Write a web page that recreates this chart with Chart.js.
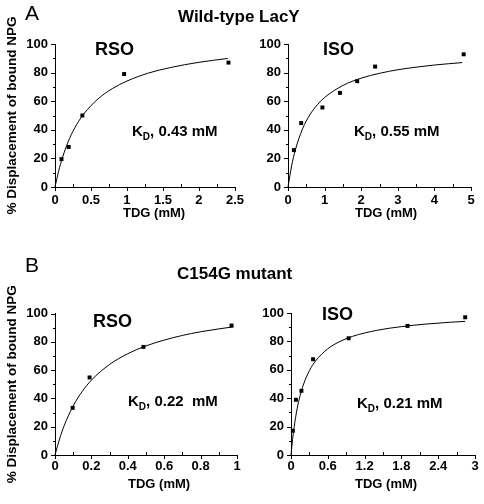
<!DOCTYPE html>
<html>
<head>
<meta charset="utf-8">
<script src="https://cdn.jsdelivr.net/npm/chart.js@4.4.0/dist/chart.umd.min.js"></script>
<style>
  body { margin: 0; background: #fff; }
  #wrap { position: relative; width: 484px; height: 504px; overflow: hidden; font-family: Arial, "Liberation Sans", sans-serif; color: #000; }
  canvas { position: absolute; }
  .txt { position: absolute; line-height: 1; white-space: nowrap; font-weight: bold; }
  .panel { font-size: 21px; font-weight: normal; }
  .head { font-size: 17px; }
  .prep { font-size: 18px; }
  .kd { font-size: 15px; }
  .kd sub { font-size: 10px; vertical-align: baseline; position: relative; top: 4px; }
  .xt { font-size: 13px; }
</style>
</head>
<body>
<div id="wrap">
  <canvas id="wtRso" width="250" height="230" style="left:0;top:0"></canvas>
  <canvas id="wtIso" width="234" height="230" style="left:250px;top:0"></canvas>
  <canvas id="mutRso" width="250" height="252" style="left:0;top:252px"></canvas>
  <canvas id="mutIso" width="234" height="252" style="left:250px;top:252px"></canvas>

  <div class="txt panel" style="left:25px;top:2px">A</div>
  <div class="txt head" style="left:178px;top:8px">Wild-type LacY</div>
  <div class="txt prep" style="left:95px;top:40px">RSO</div>
  <div class="txt prep" style="left:323px;top:40px">ISO</div>
  <div class="txt kd" style="left:132px;top:123px">K<sub>D</sub>, 0.43 mM</div>
  <div class="txt kd" style="left:354px;top:123px">K<sub>D</sub>, 0.55 mM</div>
  <div class="txt xt" style="left:123px;top:206px">TDG (mM)</div>
  <div class="txt xt" style="left:355px;top:206px">TDG (mM)</div>

  <div class="txt panel" style="left:25px;top:254px">B</div>
  <div class="txt head" style="left:177px;top:265px">C154G mutant</div>
  <div class="txt prep" style="left:93px;top:312px">RSO</div>
  <div class="txt prep" style="left:322px;top:305px">ISO</div>
  <div class="txt kd" style="left:128px;top:393px">K<sub>D</sub>, 0.22&nbsp; mM</div>
  <div class="txt kd" style="left:357px;top:395px">K<sub>D</sub>, 0.21 mM</div>
  <div class="txt xt" style="left:128px;top:477px">TDG (mM)</div>
  <div class="txt xt" style="left:355px;top:477px">TDG (mM)</div>
</div>

<script>
// measured points (TDG mM, % displacement)
const wtRsoX = [0.09, 0.19, 0.38, 0.96, 2.41];
const wtRsoY = [19.5, 28, 50, 79, 87];
const wtIsoX = [0.16, 0.36, 0.94, 1.42, 1.89, 2.38, 4.8];
const wtIsoY = [25.8, 44.7, 55.6, 65.8, 74, 84.2, 92.8];
const mutRsoX = [0.097, 0.19, 0.486, 0.97];
const mutRsoY = [33.3, 54.8, 76.4, 91.5];
const mutIsoX = [0.03, 0.08, 0.17, 0.36, 0.94, 1.9, 2.84];
const mutIsoY = [17.1, 38.9, 45.2, 67.4, 82.2, 90.9, 97];

// fitted curves
const wtRsoFitX = [0, 0.05, 0.1, 0.2, 0.3, 0.4, 0.6, 0.8, 1.0, 1.3, 1.6, 2.0, 2.4];
const wtRsoFitY = [0, 11, 20, 33.7, 43.6, 51.1, 61.7, 68.9, 74.1, 79.7, 83.5, 87.2, 89.9];
const wtIsoFitX = [0, 0.1, 0.2, 0.4, 0.6, 0.8, 1.0, 1.5, 2.0, 2.5, 3.0, 3.5, 4.0, 4.76];
const wtIsoFitY = [0, 14.9, 25.9, 40.8, 50.6, 57.5, 62.6, 71, 76.1, 79.5, 82, 83.8, 85.3, 87];
const mutRsoFitX = [0, 0.025, 0.05, 0.1, 0.15, 0.2, 0.3, 0.4, 0.5, 0.6, 0.7, 0.8, 0.98];
const mutRsoFitY = [0, 11.3, 20.6, 34.7, 45, 52.9, 64, 71.6, 77.1, 81.2, 84.5, 87.1, 90.6];
const mutIsoFitX = [0, 0.025, 0.05, 0.1, 0.15, 0.2, 0.3, 0.4, 0.6, 0.8, 1.0, 1.4, 1.8, 2.2, 2.6, 2.84];
const mutIsoFitY = [0, 10.7, 19.4, 32.6, 42.1, 49.3, 59.4, 66.2, 74.8, 80, 83.5, 87.8, 90.4, 92.2, 93.5, 94.1];

// axis ranges: [max, minor step]
const wtRsoAxis = [2.5, 0.25];
const wtIsoAxis = [5, 0.5];
const mutRsoAxis = [1, 0.1];
const mutIsoAxis = [3, 0.3];
const yAxisMax = 100;
const yAxisStep = 10;
const yTitle = '% Displacement of bound NPG';

const FONT = 'Arial, "Liberation Sans", sans-serif';

const toPoints = (xs, ys) => xs.map((x, i) => ({ x: x, y: ys[i] }));

// major ticks point out, minor ticks on x point in
const tickMarks = {
    id: 'tickMarks',
    afterDraw(chart) {
        const ctx = chart.ctx;
        const area = chart.chartArea;
        const xs = chart.scales.x;
        const ys = chart.scales.y;
        ctx.save();
        ctx.strokeStyle = '#000';
        ctx.lineWidth = 1;
        xs.ticks.forEach((t, i) => {
            const px = Math.round(xs.getPixelForTick(i)) + 0.5;
            const major = t.label !== '';
            ctx.beginPath();
            ctx.moveTo(px, area.bottom);
            ctx.lineTo(px, major ? area.bottom + 4 : area.bottom - 3);
            ctx.stroke();
        });
        ys.ticks.forEach((t, i) => {
            const py = Math.round(ys.getPixelForTick(i)) + 0.5;
            const major = t.label !== '';
            ctx.beginPath();
            ctx.moveTo(area.left, py);
            ctx.lineTo(area.left - (major ? 4 : 2), py);
            ctx.stroke();
        });
        ctx.restore();
    }
};

const makeChart = (id, pointsX, pointsY, fitX, fitY, axis, box) => {
    const ctx = document.getElementById(id).getContext('2d');
    return new Chart(ctx, {
        type: 'scatter',
        data: {
            datasets: [
                {
                    data: toPoints(fitX, fitY),
                    showLine: true,
                    borderColor: '#000',
                    borderWidth: 1,
                    pointRadius: 0,
                    cubicInterpolationMode: 'monotone'
                },
                {
                    data: toPoints(pointsX, pointsY),
                    showLine: false,
                    pointStyle: 'rect',
                    pointRadius: 2.8,
                    backgroundColor: '#000',
                    borderColor: '#000',
                    borderWidth: 0
                }
            ]
        },
        options: {
            responsive: false,
            animation: false,
            devicePixelRatio: 1,
            clip: false,
            layout: {
                autoPadding: false,
                padding: { top: box.top, right: box.right, left: 0, bottom: 0 }
            },
            plugins: { legend: { display: false }, tooltip: { enabled: false } },
            scales: {
                x: {
                    type: 'linear',
                    min: 0,
                    max: axis[0],
                    afterFit: (scale) => { scale.height = box.xh; },
                    grid: { display: true, drawOnChartArea: false, drawTicks: false },
                    border: { display: true, color: '#000', width: 1 },
                    ticks: {
                        stepSize: axis[1],
                        autoSkip: false,
                        maxRotation: 0,
                        padding: box.xpad,
                        color: '#000',
                        font: { family: FONT, size: 13, weight: 'bold' },
                        callback: (v, i) => i % 2 === 0 ? String(v) : ''
                    }
                },
                y: {
                    min: 0,
                    max: yAxisMax,
                    afterFit: (scale) => { scale.width = box.yw; },
                    grid: { display: true, drawOnChartArea: false, drawTicks: false },
                    border: { display: true, color: '#000', width: 1 },
                    title: {
                        display: box.title,
                        text: yTitle,
                        color: '#000',
                        font: { family: FONT, size: 13.5, weight: 'bold' },
                        padding: { top: 4, bottom: 0 }
                    },
                    ticks: {
                        stepSize: yAxisStep,
                        autoSkip: false,
                        padding: 7,
                        color: '#000',
                        font: { family: FONT, size: 13, weight: 'bold' },
                        callback: (v, i) => i % 2 === 0 ? String(v) : ''
                    }
                }
            }
        },
        plugins: [tickMarks]
    });
};

makeChart('wtRso', wtRsoX, wtRsoY, wtRsoFitX, wtRsoFitY, wtRsoAxis,
    { top: 44, right: 11, xh: 43, yw: 55, xpad: 6, title: true });
makeChart('wtIso', wtIsoX, wtIsoY, wtIsoFitX, wtIsoFitY, wtIsoAxis,
    { top: 44, right: 13, xh: 43, yw: 38, xpad: 6, title: false });
makeChart('mutRso', mutRsoX, mutRsoY, mutRsoFitX, mutRsoFitY, mutRsoAxis,
    { top: 61.5, right: 13, xh: 49, yw: 55, xpad: 4, title: true });
makeChart('mutIso', mutIsoX, mutIsoY, mutIsoFitX, mutIsoFitY, mutIsoAxis,
    { top: 61, right: 9, xh: 49, yw: 41, xpad: 4, title: false });
</script>
</body>
</html>
